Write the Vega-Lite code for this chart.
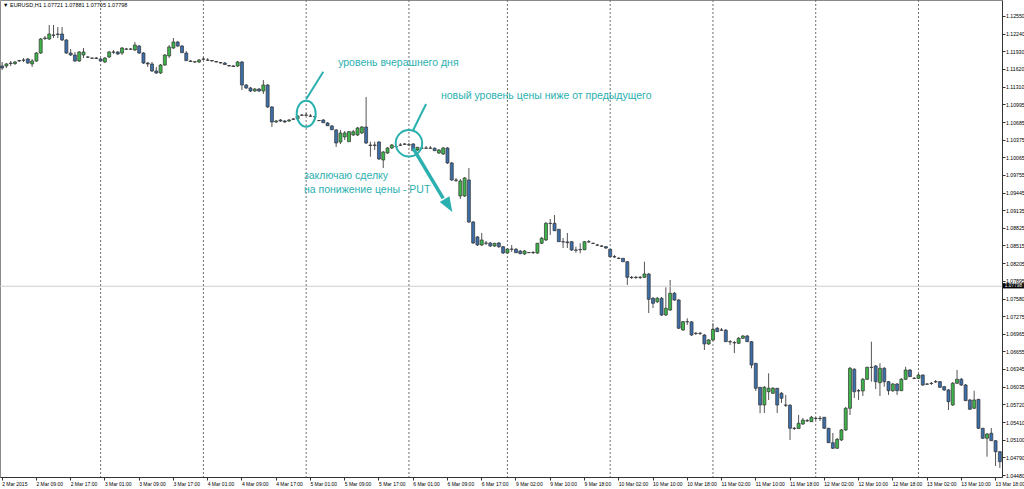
{
"$schema": "https://vega.github.io/schema/vega-lite/v6.json",
"width": 1002, "height": 477,
"autosize": {"type": "none"},
"padding": {"left": 0, "top": 0, "right": 22, "bottom": 12},
"background": "white",
"title": {"text": "▼ EURUSD,H1  1.07721 1.07881 1.07705 1.07798", "anchor": "start", "frame": "group", "orient": "top", "offset": -9, "dx": 3, "fontSize": 5.5, "fontWeight": "normal", "font": "Liberation Sans", "color": "#000"},
"config": {"view": {"stroke": "#8a8a8a"}, "axis": {"labelOverlap": false, "labelBound": false, "labelFlush": false, "grid": false}},
"data": {"values": [
{"t":"2 Mar 01:00","o":1.11671,"h":1.11741,"l":1.11600,"c":1.11636},
{"t":"2 Mar 02:00","o":1.11671,"h":1.11723,"l":1.11636,"c":1.11706},
{"t":"2 Mar 03:00","o":1.11723,"h":1.11759,"l":1.11671,"c":1.11715},
{"t":"2 Mar 04:00","o":1.11715,"h":1.11759,"l":1.11688,"c":1.11741},
{"t":"2 Mar 05:00","o":1.11759,"h":1.11776,"l":1.11741,"c":1.11767},
{"t":"2 Mar 06:00","o":1.11776,"h":1.11811,"l":1.11741,"c":1.11772},
{"t":"2 Mar 07:00","o":1.11794,"h":1.11811,"l":1.11706,"c":1.11723},
{"t":"2 Mar 08:00","o":1.11706,"h":1.11794,"l":1.11653,"c":1.11759},
{"t":"2 Mar 09:00","o":1.11759,"h":1.11917,"l":1.11741,"c":1.11899},
{"t":"2 Mar 10:00","o":1.11899,"h":1.12163,"l":1.11882,"c":1.12145},
{"t":"2 Mar 11:00","o":1.12154,"h":1.12198,"l":1.12128,"c":1.12163},
{"t":"2 Mar 12:00","o":1.12145,"h":1.12392,"l":1.12128,"c":1.12233},
{"t":"2 Mar 13:00","o":1.12216,"h":1.12392,"l":1.12163,"c":1.12210},
{"t":"2 Mar 14:00","o":1.12233,"h":1.12356,"l":1.12163,"c":1.12225},
{"t":"2 Mar 15:00","o":1.12233,"h":1.12356,"l":1.12110,"c":1.12128},
{"t":"2 Mar 16:00","o":1.12128,"h":1.12145,"l":1.11882,"c":1.11899},
{"t":"2 Mar 17:00","o":1.11899,"h":1.11970,"l":1.11847,"c":1.11864},
{"t":"2 Mar 18:00","o":1.11864,"h":1.11917,"l":1.11741,"c":1.11759},
{"t":"2 Mar 19:00","o":1.11759,"h":1.11934,"l":1.11741,"c":1.11917},
{"t":"2 Mar 20:00","o":1.11864,"h":1.11987,"l":1.11811,"c":1.11917},
{"t":"2 Mar 21:00","o":1.11829,"h":1.11847,"l":1.11811,"c":1.11825},
{"t":"2 Mar 22:00","o":1.11811,"h":1.11820,"l":1.11794,"c":1.11808},
{"t":"2 Mar 23:00","o":1.11811,"h":1.11829,"l":1.11794,"c":1.11803},
{"t":"3 Mar 00:00","o":1.11794,"h":1.11811,"l":1.11741,"c":1.11759},
{"t":"3 Mar 01:00","o":1.11741,"h":1.11829,"l":1.11723,"c":1.11811},
{"t":"3 Mar 02:00","o":1.11829,"h":1.11934,"l":1.11811,"c":1.11917},
{"t":"3 Mar 03:00","o":1.11917,"h":1.11952,"l":1.11882,"c":1.11913},
{"t":"3 Mar 04:00","o":1.11917,"h":1.11934,"l":1.11864,"c":1.11882},
{"t":"3 Mar 05:00","o":1.11899,"h":1.12005,"l":1.11864,"c":1.11987},
{"t":"3 Mar 06:00","o":1.11970,"h":1.11987,"l":1.11952,"c":1.11966},
{"t":"3 Mar 07:00","o":1.11966,"h":1.11987,"l":1.11952,"c":1.11970},
{"t":"3 Mar 08:00","o":1.11952,"h":1.12093,"l":1.11934,"c":1.12040},
{"t":"3 Mar 09:00","o":1.12022,"h":1.12040,"l":1.11882,"c":1.11899},
{"t":"3 Mar 10:00","o":1.11899,"h":1.11917,"l":1.11706,"c":1.11723},
{"t":"3 Mar 11:00","o":1.11723,"h":1.11741,"l":1.11653,"c":1.11706},
{"t":"3 Mar 12:00","o":1.11706,"h":1.11741,"l":1.11565,"c":1.11583},
{"t":"3 Mar 13:00","o":1.11583,"h":1.11653,"l":1.11530,"c":1.11548},
{"t":"3 Mar 14:00","o":1.11548,"h":1.11706,"l":1.11530,"c":1.11688},
{"t":"3 Mar 15:00","o":1.11688,"h":1.11882,"l":1.11671,"c":1.11864},
{"t":"3 Mar 16:00","o":1.11847,"h":1.12040,"l":1.11811,"c":1.12005},
{"t":"3 Mar 17:00","o":1.11987,"h":1.12163,"l":1.11970,"c":1.12093},
{"t":"3 Mar 18:00","o":1.12093,"h":1.12110,"l":1.12005,"c":1.12022},
{"t":"3 Mar 19:00","o":1.12022,"h":1.12040,"l":1.11899,"c":1.11905},
{"t":"3 Mar 20:00","o":1.11899,"h":1.11934,"l":1.11759,"c":1.11765},
{"t":"3 Mar 21:00","o":1.11759,"h":1.11776,"l":1.11741,"c":1.11750},
{"t":"3 Mar 22:00","o":1.11741,"h":1.11759,"l":1.11723,"c":1.11745},
{"t":"3 Mar 23:00","o":1.11741,"h":1.11794,"l":1.11723,"c":1.11776},
{"t":"4 Mar 00:00","o":1.11794,"h":1.11829,"l":1.11776,"c":1.11790},
{"t":"4 Mar 01:00","o":1.11776,"h":1.11811,"l":1.11759,"c":1.11772},
{"t":"4 Mar 02:00","o":1.11767,"h":1.11776,"l":1.11750,"c":1.11759},
{"t":"4 Mar 03:00","o":1.11750,"h":1.11759,"l":1.11732,"c":1.11741},
{"t":"4 Mar 04:00","o":1.11732,"h":1.11741,"l":1.11715,"c":1.11723},
{"t":"4 Mar 05:00","o":1.11723,"h":1.11741,"l":1.11688,"c":1.11697},
{"t":"4 Mar 06:00","o":1.11680,"h":1.11688,"l":1.11662,"c":1.11671},
{"t":"4 Mar 07:00","o":1.11671,"h":1.11688,"l":1.11653,"c":1.11662},
{"t":"4 Mar 08:00","o":1.11671,"h":1.11759,"l":1.11653,"c":1.11741},
{"t":"4 Mar 09:00","o":1.11741,"h":1.11759,"l":1.11249,"c":1.11337},
{"t":"4 Mar 10:00","o":1.11337,"h":1.11354,"l":1.11266,"c":1.11284},
{"t":"4 Mar 11:00","o":1.11284,"h":1.11302,"l":1.11214,"c":1.11231},
{"t":"4 Mar 12:00","o":1.11231,"h":1.11284,"l":1.11214,"c":1.11266},
{"t":"4 Mar 13:00","o":1.11266,"h":1.11284,"l":1.11214,"c":1.11231},
{"t":"4 Mar 14:00","o":1.11231,"h":1.11425,"l":1.11178,"c":1.11337},
{"t":"4 Mar 15:00","o":1.11337,"h":1.11354,"l":1.10932,"c":1.10950},
{"t":"4 Mar 16:00","o":1.10950,"h":1.10967,"l":1.10598,"c":1.10686},
{"t":"4 Mar 17:00","o":1.10686,"h":1.10721,"l":1.10669,"c":1.10704},
{"t":"4 Mar 18:00","o":1.10721,"h":1.10739,"l":1.10686,"c":1.10704},
{"t":"4 Mar 19:00","o":1.10704,"h":1.10721,"l":1.10669,"c":1.10686},
{"t":"4 Mar 20:00","o":1.10704,"h":1.10739,"l":1.10686,"c":1.10721},
{"t":"4 Mar 21:00","o":1.10739,"h":1.10757,"l":1.10721,"c":1.10735},
{"t":"4 Mar 22:00","o":1.10744,"h":1.10809,"l":1.10739,"c":1.10792},
{"t":"4 Mar 23:00","o":1.10809,"h":1.10827,"l":1.10792,"c":1.10805},
{"t":"5 Mar 00:00","o":1.10805,"h":1.10844,"l":1.10792,"c":1.10809},
{"t":"5 Mar 01:00","o":1.10792,"h":1.10827,"l":1.10774,"c":1.10788},
{"t":"5 Mar 02:00","o":1.10780,"h":1.10782,"l":1.10721,"c":1.10778},
{"t":"5 Mar 03:00","o":1.10710,"h":1.10721,"l":1.10704,"c":1.10712},
{"t":"5 Mar 04:00","o":1.10721,"h":1.10739,"l":1.10669,"c":1.10673},
{"t":"5 Mar 05:00","o":1.10669,"h":1.10686,"l":1.10616,"c":1.10620},
{"t":"5 Mar 06:00","o":1.10616,"h":1.10634,"l":1.10546,"c":1.10550},
{"t":"5 Mar 07:00","o":1.10546,"h":1.10563,"l":1.10247,"c":1.10317},
{"t":"5 Mar 08:00","o":1.10335,"h":1.10546,"l":1.10299,"c":1.10493},
{"t":"5 Mar 09:00","o":1.10423,"h":1.10528,"l":1.10370,"c":1.10493},
{"t":"5 Mar 10:00","o":1.10340,"h":1.10528,"l":1.10335,"c":1.10516},
{"t":"5 Mar 11:00","o":1.10458,"h":1.10546,"l":1.10440,"c":1.10516},
{"t":"5 Mar 12:00","o":1.10458,"h":1.10598,"l":1.10440,"c":1.10581},
{"t":"5 Mar 13:00","o":1.10493,"h":1.10616,"l":1.10475,"c":1.10598},
{"t":"5 Mar 14:00","o":1.10598,"h":1.11126,"l":1.10299,"c":1.10317},
{"t":"5 Mar 15:00","o":1.10282,"h":1.10340,"l":1.10076,"c":1.10273},
{"t":"5 Mar 16:00","o":1.10282,"h":1.10340,"l":1.10194,"c":1.10275},
{"t":"5 Mar 17:00","o":1.10335,"h":1.10352,"l":1.10018,"c":1.10036},
{"t":"5 Mar 18:00","o":1.10018,"h":1.10176,"l":1.09877,"c":1.10159},
{"t":"5 Mar 19:00","o":1.10141,"h":1.10247,"l":1.10124,"c":1.10229},
{"t":"5 Mar 20:00","o":1.10229,"h":1.10299,"l":1.10211,"c":1.10282},
{"t":"5 Mar 21:00","o":1.10253,"h":1.10264,"l":1.10247,"c":1.10255},
{"t":"5 Mar 22:00","o":1.10282,"h":1.10317,"l":1.10264,"c":1.10278},
{"t":"5 Mar 23:00","o":1.10299,"h":1.10317,"l":1.10282,"c":1.10295},
{"t":"6 Mar 00:00","o":1.10282,"h":1.10317,"l":1.10264,"c":1.10286},
{"t":"6 Mar 01:00","o":1.10299,"h":1.10317,"l":1.10176,"c":1.10182},
{"t":"6 Mar 02:00","o":1.10194,"h":1.10247,"l":1.10176,"c":1.10242},
{"t":"6 Mar 03:00","o":1.10229,"h":1.10247,"l":1.10211,"c":1.10225},
{"t":"6 Mar 04:00","o":1.10225,"h":1.10264,"l":1.10211,"c":1.10229},
{"t":"6 Mar 05:00","o":1.10229,"h":1.10264,"l":1.10211,"c":1.10225},
{"t":"6 Mar 06:00","o":1.10225,"h":1.10238,"l":1.10176,"c":1.10182},
{"t":"6 Mar 07:00","o":1.10141,"h":1.10211,"l":1.10124,"c":1.10194},
{"t":"6 Mar 08:00","o":1.10124,"h":1.10247,"l":1.10106,"c":1.10229},
{"t":"6 Mar 09:00","o":1.10229,"h":1.10247,"l":1.09948,"c":1.09966},
{"t":"6 Mar 10:00","o":1.09966,"h":1.09983,"l":1.09649,"c":1.09667},
{"t":"6 Mar 11:00","o":1.09667,"h":1.09702,"l":1.09631,"c":1.09660},
{"t":"6 Mar 12:00","o":1.09385,"h":1.09684,"l":1.09333,"c":1.09649},
{"t":"6 Mar 13:00","o":1.09385,"h":1.09719,"l":1.09368,"c":1.09702},
{"t":"6 Mar 14:00","o":1.09667,"h":1.09877,"l":1.08910,"c":1.08928},
{"t":"6 Mar 15:00","o":1.08928,"h":1.08946,"l":1.08542,"c":1.08559},
{"t":"6 Mar 16:00","o":1.08665,"h":1.08682,"l":1.08506,"c":1.08524},
{"t":"6 Mar 17:00","o":1.08524,"h":1.08735,"l":1.08506,"c":1.08612},
{"t":"6 Mar 18:00","o":1.08559,"h":1.08594,"l":1.08524,"c":1.08555},
{"t":"6 Mar 19:00","o":1.08559,"h":1.08577,"l":1.08489,"c":1.08506},
{"t":"6 Mar 20:00","o":1.08506,"h":1.08559,"l":1.08489,"c":1.08554},
{"t":"6 Mar 21:00","o":1.08559,"h":1.08577,"l":1.08471,"c":1.08494},
{"t":"6 Mar 22:00","o":1.08494,"h":1.08506,"l":1.08366,"c":1.08383},
{"t":"9 Mar 00:00","o":1.08383,"h":1.08471,"l":1.08366,"c":1.08453},
{"t":"9 Mar 01:00","o":1.08453,"h":1.08524,"l":1.08401,"c":1.08449},
{"t":"9 Mar 02:00","o":1.08449,"h":1.08471,"l":1.08383,"c":1.08388},
{"t":"9 Mar 03:00","o":1.08418,"h":1.08436,"l":1.08366,"c":1.08370},
{"t":"9 Mar 04:00","o":1.08366,"h":1.08436,"l":1.08348,"c":1.08418},
{"t":"9 Mar 05:00","o":1.08388,"h":1.08401,"l":1.08383,"c":1.08392},
{"t":"9 Mar 06:00","o":1.08392,"h":1.08418,"l":1.08366,"c":1.08388},
{"t":"9 Mar 07:00","o":1.08383,"h":1.08559,"l":1.08366,"c":1.08554},
{"t":"9 Mar 08:00","o":1.08554,"h":1.08665,"l":1.08542,"c":1.08642},
{"t":"9 Mar 09:00","o":1.08612,"h":1.08928,"l":1.08594,"c":1.08905},
{"t":"9 Mar 10:00","o":1.08905,"h":1.08981,"l":1.08700,"c":1.08902},
{"t":"9 Mar 11:00","o":1.08905,"h":1.09051,"l":1.08770,"c":1.08775},
{"t":"9 Mar 12:00","o":1.08800,"h":1.08805,"l":1.08577,"c":1.08582},
{"t":"9 Mar 13:00","o":1.08582,"h":1.08647,"l":1.08471,"c":1.08578},
{"t":"9 Mar 14:00","o":1.08578,"h":1.08735,"l":1.08471,"c":1.08564},
{"t":"9 Mar 15:00","o":1.08582,"h":1.08594,"l":1.08418,"c":1.08436},
{"t":"9 Mar 16:00","o":1.08436,"h":1.08494,"l":1.08388,"c":1.08432},
{"t":"9 Mar 17:00","o":1.08445,"h":1.08554,"l":1.08378,"c":1.08440},
{"t":"9 Mar 18:00","o":1.08440,"h":1.08594,"l":1.08436,"c":1.08582},
{"t":"9 Mar 19:00","o":1.08582,"h":1.08612,"l":1.08559,"c":1.08578},
{"t":"9 Mar 20:00","o":1.08554,"h":1.08568,"l":1.08542,"c":1.08550},
{"t":"9 Mar 21:00","o":1.08524,"h":1.08542,"l":1.08506,"c":1.08520},
{"t":"9 Mar 22:00","o":1.08506,"h":1.08524,"l":1.08489,"c":1.08502},
{"t":"9 Mar 23:00","o":1.08494,"h":1.08506,"l":1.08453,"c":1.08471},
{"t":"10 Mar 00:00","o":1.08448,"h":1.08453,"l":1.08313,"c":1.08318},
{"t":"10 Mar 01:00","o":1.08318,"h":1.08348,"l":1.08295,"c":1.08314},
{"t":"10 Mar 02:00","o":1.08290,"h":1.08313,"l":1.08278,"c":1.08286},
{"t":"10 Mar 03:00","o":1.08290,"h":1.08295,"l":1.08225,"c":1.08230},
{"t":"10 Mar 04:00","o":1.08230,"h":1.08242,"l":1.07821,"c":1.07956},
{"t":"10 Mar 05:00","o":1.07956,"h":1.07979,"l":1.07926,"c":1.07952},
{"t":"10 Mar 06:00","o":1.07952,"h":1.07979,"l":1.07926,"c":1.07956},
{"t":"10 Mar 07:00","o":1.07956,"h":1.07979,"l":1.07926,"c":1.07952},
{"t":"10 Mar 08:00","o":1.07956,"h":1.08230,"l":1.07944,"c":1.08014},
{"t":"10 Mar 09:00","o":1.08014,"h":1.08032,"l":1.07328,"c":1.07569},
{"t":"10 Mar 10:00","o":1.07587,"h":1.07610,"l":1.07416,"c":1.07499},
{"t":"10 Mar 11:00","o":1.07527,"h":1.07610,"l":1.07504,"c":1.07587},
{"t":"10 Mar 12:00","o":1.07587,"h":1.07610,"l":1.07276,"c":1.07293},
{"t":"10 Mar 13:00","o":1.07293,"h":1.07780,"l":1.07276,"c":1.07411},
{"t":"10 Mar 14:00","o":1.07381,"h":1.07909,"l":1.07364,"c":1.07675},
{"t":"10 Mar 15:00","o":1.07675,"h":1.07698,"l":1.07539,"c":1.07557},
{"t":"10 Mar 16:00","o":1.07557,"h":1.07575,"l":1.07047,"c":1.07060},
{"t":"10 Mar 17:00","o":1.07030,"h":1.07188,"l":1.07012,"c":1.07176},
{"t":"10 Mar 18:00","o":1.07176,"h":1.07235,"l":1.07118,"c":1.07172},
{"t":"10 Mar 19:00","o":1.07172,"h":1.07188,"l":1.06924,"c":1.06942},
{"t":"10 Mar 20:00","o":1.06972,"h":1.06995,"l":1.06942,"c":1.06968},
{"t":"10 Mar 21:00","o":1.06968,"h":1.06995,"l":1.06942,"c":1.06972},
{"t":"10 Mar 22:00","o":1.06942,"h":1.06959,"l":1.06678,"c":1.06784},
{"t":"10 Mar 23:00","o":1.06784,"h":1.06871,"l":1.06766,"c":1.06854},
{"t":"11 Mar 00:00","o":1.06854,"h":1.07147,"l":1.06837,"c":1.07042},
{"t":"11 Mar 01:00","o":1.07060,"h":1.07082,"l":1.06995,"c":1.07000},
{"t":"11 Mar 02:00","o":1.07030,"h":1.07065,"l":1.07012,"c":1.07026},
{"t":"11 Mar 03:00","o":1.07026,"h":1.07047,"l":1.06819,"c":1.06824},
{"t":"11 Mar 04:00","o":1.06824,"h":1.06854,"l":1.06766,"c":1.06820},
{"t":"11 Mar 05:00","o":1.06807,"h":1.06837,"l":1.06625,"c":1.06803},
{"t":"11 Mar 06:00","o":1.06796,"h":1.06907,"l":1.06784,"c":1.06884},
{"t":"11 Mar 07:00","o":1.06884,"h":1.06942,"l":1.06871,"c":1.06924},
{"t":"11 Mar 08:00","o":1.06924,"h":1.06942,"l":1.06819,"c":1.06824},
{"t":"11 Mar 09:00","o":1.06824,"h":1.06837,"l":1.06356,"c":1.06414},
{"t":"11 Mar 10:00","o":1.06444,"h":1.06449,"l":1.05957,"c":1.06005},
{"t":"11 Mar 11:00","o":1.06022,"h":1.06027,"l":1.05565,"c":1.05711},
{"t":"11 Mar 12:00","o":1.05711,"h":1.06045,"l":1.05570,"c":1.06022},
{"t":"11 Mar 13:00","o":1.05945,"h":1.06268,"l":1.05799,"c":1.06005},
{"t":"11 Mar 14:00","o":1.05917,"h":1.06027,"l":1.05904,"c":1.06005},
{"t":"11 Mar 15:00","o":1.06005,"h":1.06010,"l":1.05570,"c":1.05711},
{"t":"11 Mar 16:00","o":1.05917,"h":1.05940,"l":1.05746,"c":1.05829},
{"t":"11 Mar 17:00","o":1.05711,"h":1.05887,"l":1.05676,"c":1.05706},
{"t":"11 Mar 18:00","o":1.05706,"h":1.05729,"l":1.05096,"c":1.05302},
{"t":"11 Mar 19:00","o":1.05302,"h":1.05324,"l":1.05272,"c":1.05298},
{"t":"11 Mar 20:00","o":1.05298,"h":1.05535,"l":1.05289,"c":1.05389},
{"t":"11 Mar 21:00","o":1.05377,"h":1.05483,"l":1.05360,"c":1.05447},
{"t":"11 Mar 22:00","o":1.05435,"h":1.05465,"l":1.05412,"c":1.05431},
{"t":"11 Mar 23:00","o":1.05418,"h":1.05518,"l":1.05412,"c":1.05495},
{"t":"12 Mar 00:00","o":1.05477,"h":1.05500,"l":1.05447,"c":1.05473},
{"t":"12 Mar 01:00","o":1.05473,"h":1.05518,"l":1.05430,"c":1.05477},
{"t":"12 Mar 02:00","o":1.05495,"h":1.05500,"l":1.05289,"c":1.05302},
{"t":"12 Mar 03:00","o":1.05302,"h":1.05307,"l":1.05043,"c":1.05048},
{"t":"12 Mar 04:00","o":1.05048,"h":1.05219,"l":1.04938,"c":1.04950},
{"t":"12 Mar 05:00","o":1.04950,"h":1.05131,"l":1.04938,"c":1.05108},
{"t":"12 Mar 06:00","o":1.05096,"h":1.05289,"l":1.05078,"c":1.05272},
{"t":"12 Mar 07:00","o":1.05272,"h":1.05676,"l":1.05254,"c":1.05653},
{"t":"12 Mar 08:00","o":1.05653,"h":1.06379,"l":1.05535,"c":1.06356},
{"t":"12 Mar 09:00","o":1.06339,"h":1.06361,"l":1.05834,"c":1.05945},
{"t":"12 Mar 10:00","o":1.05962,"h":1.05992,"l":1.05799,"c":1.05958},
{"t":"12 Mar 11:00","o":1.05958,"h":1.06186,"l":1.05869,"c":1.06163},
{"t":"12 Mar 12:00","o":1.06163,"h":1.06384,"l":1.06151,"c":1.06374},
{"t":"12 Mar 13:00","o":1.06374,"h":1.06824,"l":1.06121,"c":1.06370},
{"t":"12 Mar 14:00","o":1.06397,"h":1.06414,"l":1.05992,"c":1.06121},
{"t":"12 Mar 15:00","o":1.06103,"h":1.06444,"l":1.05869,"c":1.06356},
{"t":"12 Mar 16:00","o":1.06356,"h":1.06379,"l":1.06033,"c":1.06121},
{"t":"12 Mar 17:00","o":1.06121,"h":1.06133,"l":1.05887,"c":1.05962},
{"t":"12 Mar 18:00","o":1.05962,"h":1.06098,"l":1.05940,"c":1.06080},
{"t":"12 Mar 19:00","o":1.06080,"h":1.06098,"l":1.05887,"c":1.05962},
{"t":"12 Mar 20:00","o":1.05962,"h":1.06186,"l":1.05957,"c":1.06163},
{"t":"12 Mar 21:00","o":1.06163,"h":1.06384,"l":1.06151,"c":1.06326},
{"t":"12 Mar 22:00","o":1.06326,"h":1.06344,"l":1.06203,"c":1.06209},
{"t":"12 Mar 23:00","o":1.06181,"h":1.06203,"l":1.06168,"c":1.06177},
{"t":"13 Mar 00:00","o":1.06181,"h":1.06256,"l":1.06168,"c":1.06238},
{"t":"13 Mar 01:00","o":1.06238,"h":1.06247,"l":1.06045,"c":1.06063},
{"t":"13 Mar 02:00","o":1.06080,"h":1.06098,"l":1.06063,"c":1.06076},
{"t":"13 Mar 03:00","o":1.06093,"h":1.06115,"l":1.06063,"c":1.06089},
{"t":"13 Mar 04:00","o":1.06121,"h":1.06151,"l":1.06098,"c":1.06117},
{"t":"13 Mar 05:00","o":1.06121,"h":1.06133,"l":1.06010,"c":1.06022},
{"t":"13 Mar 06:00","o":1.06033,"h":1.06045,"l":1.05957,"c":1.05975},
{"t":"13 Mar 07:00","o":1.05975,"h":1.05992,"l":1.05623,"c":1.05769},
{"t":"13 Mar 08:00","o":1.05711,"h":1.06115,"l":1.05694,"c":1.06093},
{"t":"13 Mar 09:00","o":1.06093,"h":1.06326,"l":1.06080,"c":1.06163},
{"t":"13 Mar 10:00","o":1.06163,"h":1.06186,"l":1.06045,"c":1.06063},
{"t":"13 Mar 11:00","o":1.06063,"h":1.06080,"l":1.05781,"c":1.05787},
{"t":"13 Mar 12:00","o":1.05799,"h":1.05817,"l":1.05623,"c":1.05636},
{"t":"13 Mar 13:00","o":1.05653,"h":1.05962,"l":1.05641,"c":1.05799},
{"t":"13 Mar 14:00","o":1.05811,"h":1.05817,"l":1.05289,"c":1.05302},
{"t":"13 Mar 15:00","o":1.05302,"h":1.05307,"l":1.05113,"c":1.05126},
{"t":"13 Mar 16:00","o":1.05126,"h":1.05219,"l":1.04802,"c":1.05201},
{"t":"13 Mar 17:00","o":1.05214,"h":1.05307,"l":1.05078,"c":1.05083},
{"t":"13 Mar 18:00","o":1.05083,"h":1.05096,"l":1.04639,"c":1.04890},
{"t":"13 Mar 19:00","o":1.04890,"h":1.04902,"l":1.04604,"c":1.04714}
]},
"layer": [
{"mark": {"type": "rule", "strokeDash": [2, 2], "color": "#6e6e6e", "strokeWidth": 1},
 "encoding": {
  "x": {"field": "t", "type": "ordinal", "sort": null, "title": null,
        "scale": {"type": "band", "paddingInner": 0.3, "paddingOuter": 0.15},
        "axis": {"values": ["2 Mar 01:00","2 Mar 09:00","2 Mar 17:00","3 Mar 01:00","3 Mar 09:00","3 Mar 17:00","4 Mar 01:00","4 Mar 09:00","4 Mar 17:00","5 Mar 01:00","5 Mar 09:00","5 Mar 17:00","6 Mar 01:00","6 Mar 09:00","6 Mar 17:00","9 Mar 02:00","9 Mar 10:00","9 Mar 18:00","10 Mar 02:00","10 Mar 10:00","10 Mar 18:00","11 Mar 02:00","11 Mar 10:00","11 Mar 18:00","12 Mar 02:00","12 Mar 10:00","12 Mar 18:00","13 Mar 02:00","13 Mar 10:00","13 Mar 18:00"],
                 "labelExpr": "datum.value == '2 Mar 01:00' ? '2 Mar 2015' : datum.value",
                 "labelAngle": 0, "labelAlign": "left", "labelBaseline": "top", "labelPadding": 1, "labelDx": 0.5,
                 "labelFontSize": 5, "labelFont": "Liberation Sans", "labelColor": "#000",
                 "tickSize": 3, "tickColor": "#333", "domainColor": "#333",
                 "labelOverlap": false, "labelBound": false, "labelFlush": false, "grid": false, "title": null}},
  "opacity": {"condition": {"test": "indexof(datum.t, ' 00:00') > 0", "value": 1}, "value": 0}
 }},
{"mark": {"type": "rule", "color": "#555", "strokeWidth": 1},
 "encoding": {
  "x": {"field": "t", "type": "ordinal", "sort": null, "title": null},
  "y": {"field": "l", "type": "quantitative", "title": null,
        "scale": {"domain": [1.04445, 1.12831], "nice": false, "zero": false},
        "axis": {"orient": "right", "tickCount": 60, "values": [1.1255,1.1224,1.1193,1.1162,1.1131,1.10995,1.10685,1.10375,1.10065,1.09755,1.09445,1.09135,1.08825,1.08515,1.08205,1.07895,1.0758,1.07275,1.06965,1.06655,1.06345,1.06035,1.0572,1.0541,1.051,1.0479,1.0448],
                 "format": ".5f", "labelFontSize": 5.2, "labelFont": "Liberation Sans", "labelColor": "#000", "labelPadding": 0.5, "labelBaseline": "middle", "labelAlign": "left",
                 "tickSize": 3, "tickColor": "#333", "domainColor": "#333", "grid": false, "title": null, "labelOverlap": false, "labelFlush": false, "labelBound": false}},
  "y2": {"field": "h"}
 }},
{"data": {"values": [{"bid": 1.07798}]},
 "mark": {"type": "rule", "color": "#cfcfcf", "strokeWidth": 1},
 "encoding": {"y": {"field": "bid", "type": "quantitative", "title": null}}},
{"mark": {"type": "bar", "stroke": "#333", "strokeWidth": 0.7},
 "encoding": {
  "x": {"field": "t", "type": "ordinal", "sort": null, "title": null},
  "y": {"field": "o", "type": "quantitative", "title": null},
  "y2": {"field": "c"},
  "fill": {"condition": {"test": "datum.c >= datum.o", "value": "#3db44a"}, "value": "#3c6ea9"}
 }},
{"data": {"values": [
  {"t1": "5 Mar 00:00", "p1": 1.11085, "t2": "5 Mar 04:00", "p2": 1.11571},
  {"t1": "6 Mar 01:00", "p1": 1.10546, "t2": "6 Mar 04:00", "p2": 1.11003}]},
 "mark": {"type": "rule", "color": "#2bb0b0", "strokeWidth": 2},
 "encoding": {
  "x": {"field": "t1", "type": "ordinal", "sort": null, "title": null},
  "x2": {"field": "t2"},
  "y": {"field": "p1", "type": "quantitative", "title": null},
  "y2": {"field": "p2"}
 }},
{"data": {"values": [{"t1": "6 Mar 01:00", "p1": 1.10224, "t2": "6 Mar 08:00", "p2": 1.09345}]},
 "mark": {"type": "rule", "color": "#2bb0b0", "strokeWidth": 3.5},
 "encoding": {
  "x": {"field": "t1", "type": "ordinal", "sort": null, "title": null},
  "x2": {"field": "t2"},
  "y": {"field": "p1", "type": "quantitative", "title": null},
  "y2": {"field": "p2"}
 }},
{"data": {"values": [{"t": "6 Mar 09:00", "p": 1.09245}]},
 "mark": {"type": "point", "shape": "M0,1L-0.6,-0.6L0.6,-0.6Z", "size": 353, "filled": true, "fill": "#2bb0b0", "strokeWidth": 0, "opacity": 1, "angle": -31},
 "encoding": {
  "x": {"field": "t", "type": "ordinal", "sort": null, "title": null},
  "y": {"field": "p", "type": "quantitative", "title": null}
 }},
{"data": {"values": [{"t": "5 Mar 00:00", "p": 1.10832}]},
 "mark": {"type": "point", "shape": "M-0.73,0A0.73,1,0,1,1,0.73,0A0.73,1,0,1,1,-0.73,0Z", "size": 676, "filled": false, "stroke": "#2bb0b0", "strokeWidth": 2, "opacity": 1},
 "encoding": {
  "x": {"field": "t", "type": "ordinal", "sort": null, "title": null},
  "y": {"field": "p", "type": "quantitative", "title": null}
 }},
{"data": {"values": [{"t": "6 Mar 00:00", "p": 1.10312}]},
 "mark": {"type": "point", "shape": "circle", "size": 702, "filled": false, "stroke": "#2bb0b0", "strokeWidth": 2, "opacity": 1},
 "encoding": {
  "x": {"field": "t", "type": "ordinal", "sort": null, "title": null},
  "y": {"field": "p", "type": "quantitative", "title": null}
 }},
{"data": {"values": [
  {"t": "5 Mar 07:00", "p": 1.11723, "label": "уровень вчерашнего дня"},
  {"t": "6 Mar 07:00", "p": 1.11152, "label": "новый уровень цены ниже от предыдущего"},
  {"t": "4 Mar 23:00", "p": 1.09737, "label": "заключаю сделку"},
  {"t": "4 Mar 23:00", "p": 1.09491, "label": "на понижение цены - PUT"}]},
 "mark": {"type": "text", "align": "left", "baseline": "middle", "dx": 2, "font": "Liberation Sans", "fontSize": 10.5, "color": "#2bb0b0"},
 "encoding": {
  "x": {"field": "t", "type": "ordinal", "sort": null, "title": null},
  "y": {"field": "p", "type": "quantitative", "title": null},
  "text": {"field": "label"}
 }},
{"data": {"values": [{"t": "13 Mar 19:00", "p": 1.07798}]},
 "mark": {"type": "point", "shape": "M-0.95,-0.24L0.95,-0.24L0.95,0.24L-0.95,0.24Z", "size": 484, "filled": true, "fill": "#000", "strokeWidth": 0, "opacity": 1, "xOffset": 13.6, "yOffset": -0.5},
 "encoding": {
  "x": {"field": "t", "type": "ordinal", "sort": null, "title": null},
  "y": {"field": "p", "type": "quantitative", "title": null}
 }},
{"data": {"values": [{"t": "13 Mar 19:00", "p": 1.07798, "label": "1.07798"}]},
 "mark": {"type": "text", "align": "center", "baseline": "middle", "dx": 13.6, "dy": -0.5, "font": "Liberation Sans", "fontSize": 4.8, "color": "#fff"},
 "encoding": {
  "x": {"field": "t", "type": "ordinal", "sort": null, "title": null},
  "y": {"field": "p", "type": "quantitative", "title": null},
  "text": {"field": "label"}
 }}
]
}
